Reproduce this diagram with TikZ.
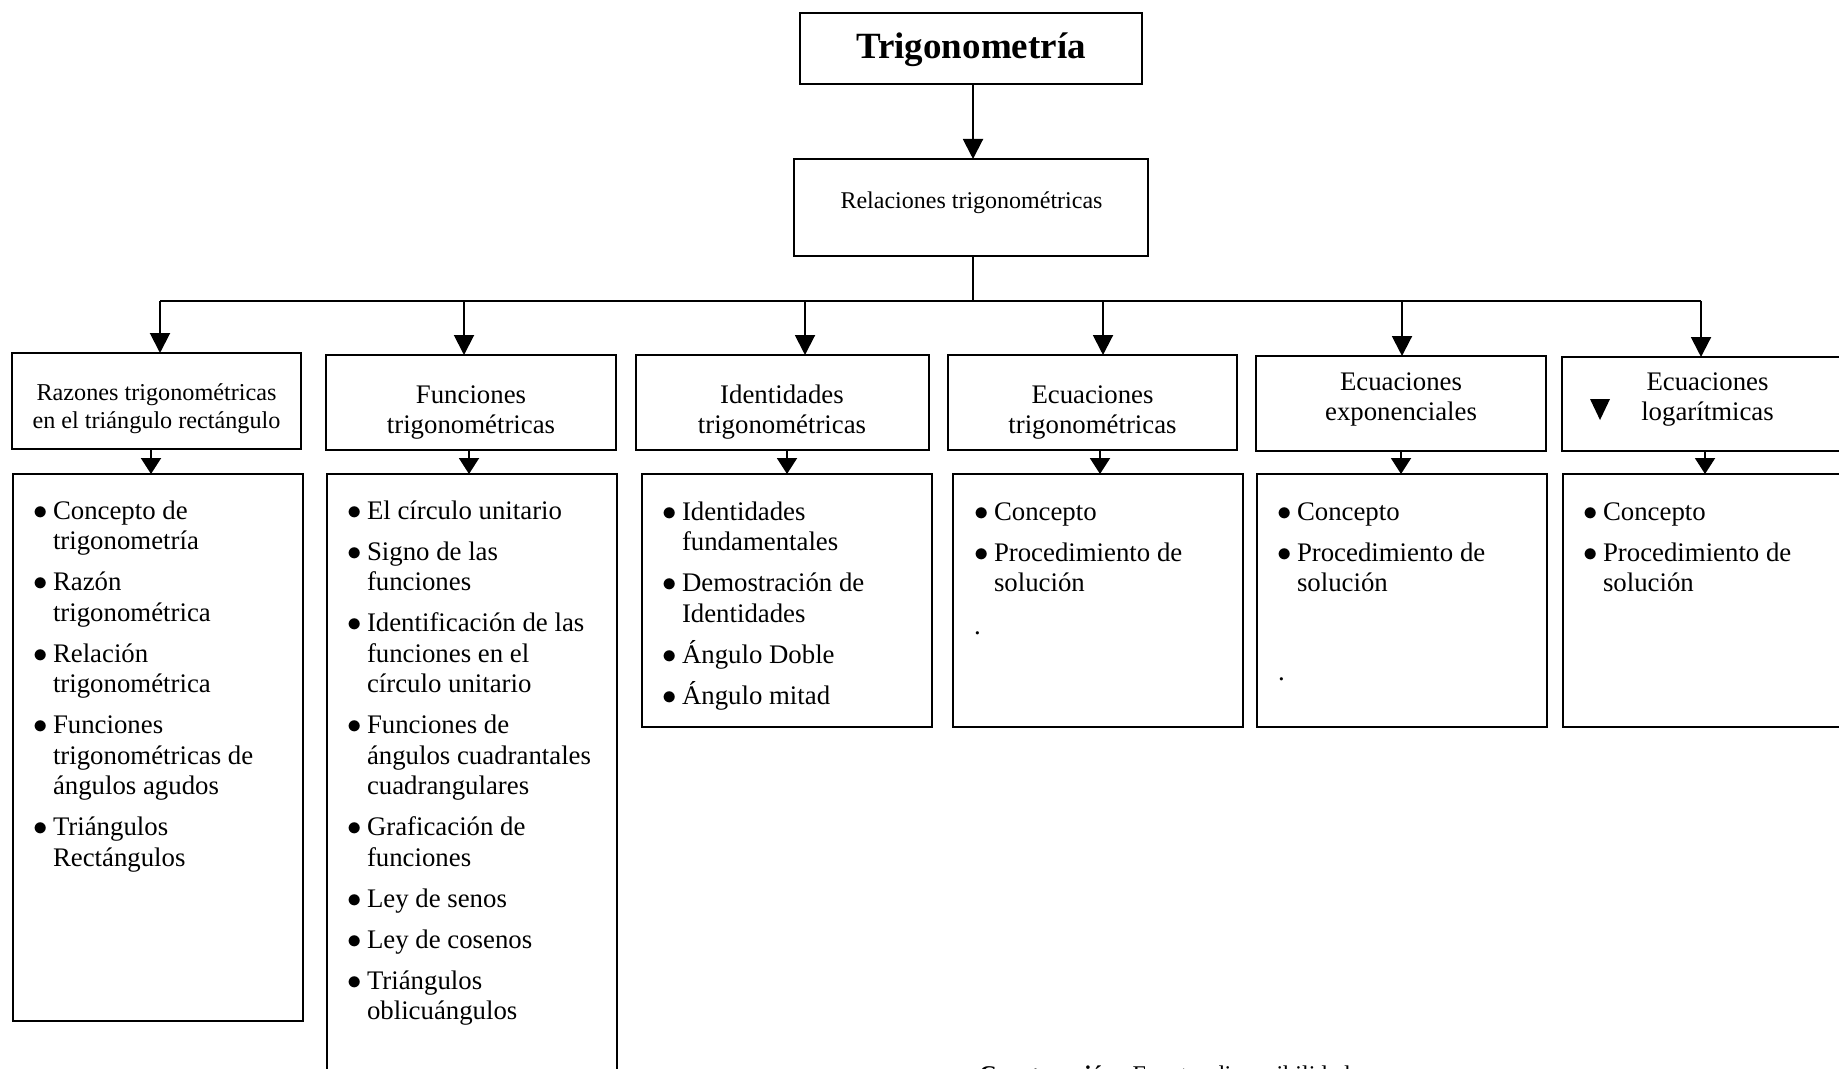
\documentclass[tikz,border=0pt]{standalone}
\usepackage{fontspec}
\setmainfont{Liberation Serif}
\usetikzlibrary{arrows.meta,fit}
\newcommand{\itemdot}{\makebox[9.8pt][l]{$\bullet$}}
\newcommand{\itemind}{\hspace*{9.8pt}}
\newcommand{\firstln}{\rule{0pt}{12pt}}
\tikzset{
  box/.style={draw, line width=1.1pt, inner sep=0pt, outer sep=0pt, rectangle},
  conn/.style={line width=1pt},
  arr/.style={line width=1pt, -{Triangle[length=10pt,width=10pt]}},
  arrs/.style={line width=1pt, -{Triangle[length=8pt,width=10pt]}},
  lvltwo/.style={inner sep=0pt, anchor=north, align=center, font=\fontsize{13.4}{15}\selectfont},
  listtxt/.style={inner sep=0pt, anchor=north west, align=left, font=\fontsize{13.4}{15.25}\selectfont},
  dottxt/.style={inner sep=0pt, anchor=base west, font=\fontsize{13.4}{15}\selectfont},
}
\begin{document}
\begin{tikzpicture}[x=0.5pt,y=-0.5pt]
\useasboundingbox (0,0) rectangle (1839,1069);
\clip (0,0) rectangle (1839,1069);

% boxes
\node[box, fit={(800,13) (1142,84)}] (title) {};
\node[box, fit={(794,159) (1148,256)}] (rel) {};
\node[box, fit={(12,353) (301,449)}] (b1) {};
\node[box, fit={(326,355) (616,450)}] (b2) {};
\node[box, fit={(636,355) (929,450)}] (b3) {};
\node[box, fit={(948,355) (1237,450)}] (b4) {};
\node[box, fit={(1256,356) (1546,451)}] (b5) {};
\node[box, fit={(1562,357) (1853,451)}] (b6) {};
\node[box, fit={(13,474) (303,1021)}] (c1) {};
\node[box, fit={(327,474) (617,1110)}] (c2) {};
\node[box, fit={(642,474) (932,727)}] (c3) {};
\node[box, fit={(953,474) (1243,727)}] (c4) {};
\node[box, fit={(1257,474) (1547,727)}] (c5) {};
\node[box, fit={(1563,474) (1853,727)}] (c6) {};

% texts
\node[inner sep=0pt, anchor=base, font=\fontsize{18.5}{20}\selectfont\bfseries] (ttitle) at (971,59) {Trigonometría};
\node[inner sep=0pt, anchor=base, font=\fontsize{12}{14}\selectfont] (trel) at (971.5,209) {Relaciones trigonométricas};

\node[lvltwo, font=\fontsize{12.1}{14}\selectfont] (t1) at (156.5,376) {\firstln Razones trigonométricas\\en el triángulo rectángulo};
\node[lvltwo] (t2) at (471,379) {\firstln Funciones\\trigonométricas};
\node[lvltwo] (t3) at (782,379) {\firstln Identidades\\trigonométricas};
\node[lvltwo] (t4) at (1092.5,379) {\firstln Ecuaciones\\trigonométricas};
\node[lvltwo] (t5) at (1401,366.5) {\firstln Ecuaciones\\exponenciales};
\node[lvltwo] (t6) at (1707.5,366.5) {\firstln Ecuaciones\\logarítmicas};

\node[listtxt] (l1) at (33,495) {\firstln\itemdot Concepto de\\
\itemind trigonometría\\[5.25pt]
\itemdot Razón\\
\itemind trigonométrica\\[5.25pt]
\itemdot Relación\\
\itemind trigonométrica\\[5.25pt]
\itemdot Funciones\\
\itemind trigonométricas de\\
\itemind ángulos agudos\\[5.25pt]
\itemdot Triángulos\\
\itemind Rectángulos};

\node[listtxt] (l2) at (347,495) {\firstln\itemdot El círculo unitario\\[5.25pt]
\itemdot Signo de las\\
\itemind funciones\\[5.25pt]
\itemdot Identificación de las\\
\itemind funciones en el\\
\itemind círculo unitario\\[5.25pt]
\itemdot Funciones de\\
\itemind ángulos cuadrantales\\
\itemind cuadrangulares\\[5.25pt]
\itemdot Graficación de\\
\itemind funciones\\[5.25pt]
\itemdot Ley de senos\\[5.25pt]
\itemdot Ley de cosenos\\[5.25pt]
\itemdot Triángulos\\
\itemind oblicuángulos};

\node[listtxt] (l3) at (662,496) {\firstln\itemdot Identidades\\
\itemind fundamentales\\[5.25pt]
\itemdot Demostración de\\
\itemind Identidades\\[5.25pt]
\itemdot Ángulo Doble\\[5.25pt]
\itemdot Ángulo mitad};

\node[listtxt] (l4) at (974,496) {\firstln\itemdot Concepto\\[5.25pt]
\itemdot Procedimiento de\\
\itemind solución};
\node[listtxt] (l5) at (1277,496) {\firstln\itemdot Concepto\\[5.25pt]
\itemdot Procedimiento de\\
\itemind solución};
\node[listtxt] (l6) at (1583,496) {\firstln\itemdot Concepto\\[5.25pt]
\itemdot Procedimiento de\\
\itemind solución};

\node[dottxt] (d4) at (973.6,634.5) {.};
\node[dottxt] (d5) at (1277.6,680.5) {.};

\node[inner sep=0pt, anchor=base west, font=\fontsize{12}{14}\selectfont] (foot) at (979,1082) {\textbf{Construcción:} Fuente: disponibilidad};

% connectors
\coordinate (jx) at (973,0);
\coordinate (j) at (973,301);
\coordinate (h1) at (160,301);
\coordinate (h2) at (464,301);
\coordinate (h3) at (805,301);
\coordinate (h4) at (1103,301);
\coordinate (h5) at (1402,301);
\coordinate (h6) at (1701,301);

\draw[arr] (title.south -| jx) -- (rel.north -| jx);
\draw[conn] (rel.south -| jx) -- (j);
\draw[conn] (h1) -- (h6);
\draw[arr] (h1) -- (h1 |- b1.north);
\draw[arr] (h2) -- (h2 |- b2.north);
\draw[arr] (h3) -- (h3 |- b3.north);
\draw[arr] (h4) -- (h4 |- b4.north);
\draw[arr] (h5) -- (h5 |- b5.north);
\draw[arr] (h6) -- (h6 |- b6.north);

\coordinate (s1) at (151,0);
\coordinate (s2) at (469,0);
\coordinate (s3) at (787,0);
\coordinate (s4) at (1100,0);
\coordinate (s5) at (1401,0);
\coordinate (s6) at (1705,0);
\draw[arrs] (b1.south -| s1) -- (c1.north -| s1);
\draw[arrs] (b2.south -| s2) -- (c2.north -| s2);
\draw[arrs] (b3.south -| s3) -- (c3.north -| s3);
\draw[arrs] (b4.south -| s4) -- (c4.north -| s4);
\draw[arrs] (b5.south -| s5) -- (c5.north -| s5);
\draw[arrs] (b6.south -| s6) -- (c6.north -| s6);

% stray arrow head inside the last box
\fill (1590,399) -- (1610,399) -- (1600,420) -- cycle;
\end{tikzpicture}
\end{document}
